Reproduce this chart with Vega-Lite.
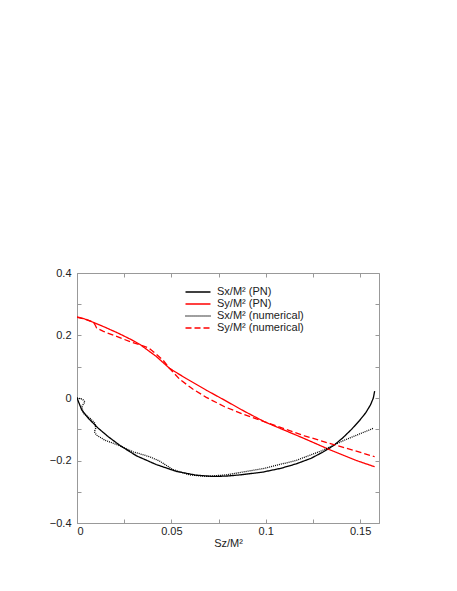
{
  "$schema": "https://vega.github.io/schema/vega-lite/v6.json",
  "autosize": "none",
  "padding": {"left": 77, "top": 273, "right": 78, "bottom": 68},
  "width": 302,
  "height": 250,
  "background": "white",
  "config": {
    "font": "Liberation Sans",
    "view": {"stroke": "#999", "strokeWidth": 1},
    "axis": {
      "grid": false,
      "domainColor": "#999",
      "tickColor": "#999",
      "labelColor": "#222",
      "titleColor": "#222",
      "labelFont": "Liberation Sans",
      "titleFont": "Liberation Sans",
      "labelFontSize": 11,
      "titleFontSize": 11,
      "titleFontWeight": "normal"
    }
  },
  "data": {
    "values": [
      {"series": "Sx/M² (PN)", "i": 0, "x": 0, "y": 0},
      {"series": "Sx/M² (PN)", "i": 1, "x": 0.0004, "y": -0.006},
      {"series": "Sx/M² (PN)", "i": 2, "x": 0.0025, "y": -0.038},
      {"series": "Sx/M² (PN)", "i": 3, "x": 0.006, "y": -0.065},
      {"series": "Sx/M² (PN)", "i": 4, "x": 0.0113, "y": -0.097},
      {"series": "Sx/M² (PN)", "i": 5, "x": 0.0166, "y": -0.124},
      {"series": "Sx/M² (PN)", "i": 6, "x": 0.0228, "y": -0.152},
      {"series": "Sx/M² (PN)", "i": 7, "x": 0.0315, "y": -0.185},
      {"series": "Sx/M² (PN)", "i": 8, "x": 0.042, "y": -0.213},
      {"series": "Sx/M² (PN)", "i": 9, "x": 0.0527, "y": -0.235},
      {"series": "Sx/M² (PN)", "i": 10, "x": 0.0632, "y": -0.247},
      {"series": "Sx/M² (PN)", "i": 11, "x": 0.072, "y": -0.251},
      {"series": "Sx/M² (PN)", "i": 12, "x": 0.079, "y": -0.25},
      {"series": "Sx/M² (PN)", "i": 13, "x": 0.0865, "y": -0.246},
      {"series": "Sx/M² (PN)", "i": 14, "x": 0.0985, "y": -0.237},
      {"series": "Sx/M² (PN)", "i": 15, "x": 0.108, "y": -0.225},
      {"series": "Sx/M² (PN)", "i": 16, "x": 0.116, "y": -0.211},
      {"series": "Sx/M² (PN)", "i": 17, "x": 0.124, "y": -0.193},
      {"series": "Sx/M² (PN)", "i": 18, "x": 0.13, "y": -0.174},
      {"series": "Sx/M² (PN)", "i": 19, "x": 0.136, "y": -0.152},
      {"series": "Sx/M² (PN)", "i": 20, "x": 0.1409, "y": -0.127},
      {"series": "Sx/M² (PN)", "i": 21, "x": 0.1455, "y": -0.1},
      {"series": "Sx/M² (PN)", "i": 22, "x": 0.1497, "y": -0.072},
      {"series": "Sx/M² (PN)", "i": 23, "x": 0.153, "y": -0.047},
      {"series": "Sx/M² (PN)", "i": 24, "x": 0.1555, "y": -0.022},
      {"series": "Sx/M² (PN)", "i": 25, "x": 0.157, "y": 0.0},
      {"series": "Sx/M² (PN)", "i": 26, "x": 0.1577, "y": 0.022},

      {"series": "Sy/M² (PN)", "i": 0, "x": 0, "y": 0.26},
      {"series": "Sy/M² (PN)", "i": 1, "x": 0.004, "y": 0.253},
      {"series": "Sy/M² (PN)", "i": 2, "x": 0.0087, "y": 0.242},
      {"series": "Sy/M² (PN)", "i": 3, "x": 0.015, "y": 0.226},
      {"series": "Sy/M² (PN)", "i": 4, "x": 0.022, "y": 0.207},
      {"series": "Sy/M² (PN)", "i": 5, "x": 0.029, "y": 0.186},
      {"series": "Sy/M² (PN)", "i": 6, "x": 0.0332, "y": 0.172},
      {"series": "Sy/M² (PN)", "i": 7, "x": 0.042, "y": 0.133},
      {"series": "Sy/M² (PN)", "i": 8, "x": 0.049, "y": 0.095},
      {"series": "Sy/M² (PN)", "i": 9, "x": 0.0579, "y": 0.062},
      {"series": "Sy/M² (PN)", "i": 10, "x": 0.0685, "y": 0.025},
      {"series": "Sy/M² (PN)", "i": 11, "x": 0.0782, "y": -0.007},
      {"series": "Sy/M² (PN)", "i": 12, "x": 0.0885, "y": -0.042},
      {"series": "Sy/M² (PN)", "i": 13, "x": 0.0993, "y": -0.076},
      {"series": "Sy/M² (PN)", "i": 14, "x": 0.1205, "y": -0.13},
      {"series": "Sy/M² (PN)", "i": 15, "x": 0.1337, "y": -0.165},
      {"series": "Sy/M² (PN)", "i": 16, "x": 0.148, "y": -0.2},
      {"series": "Sy/M² (PN)", "i": 17, "x": 0.1577, "y": -0.22},

      {"series": "Sx/M² (numerical)", "i": 0, "x": 0, "y": 0},
      {"series": "Sx/M² (numerical)", "i": 1, "x": 0.0029, "y": -0.004},
      {"series": "Sx/M² (numerical)", "i": 2, "x": 0.0042, "y": -0.012},
      {"series": "Sx/M² (numerical)", "i": 3, "x": 0.0025, "y": -0.028},
      {"series": "Sx/M² (numerical)", "i": 4, "x": 0.0034, "y": -0.049},
      {"series": "Sx/M² (numerical)", "i": 5, "x": 0.0069, "y": -0.065},
      {"series": "Sx/M² (numerical)", "i": 6, "x": 0.0095, "y": -0.081},
      {"series": "Sx/M² (numerical)", "i": 7, "x": 0.0099, "y": -0.097},
      {"series": "Sx/M² (numerical)", "i": 8, "x": 0.0092, "y": -0.108},
      {"series": "Sx/M² (numerical)", "i": 9, "x": 0.0104, "y": -0.119},
      {"series": "Sx/M² (numerical)", "i": 10, "x": 0.0148, "y": -0.135},
      {"series": "Sx/M² (numerical)", "i": 11, "x": 0.0219, "y": -0.151},
      {"series": "Sx/M² (numerical)", "i": 12, "x": 0.0297, "y": -0.172},
      {"series": "Sx/M² (numerical)", "i": 13, "x": 0.0385, "y": -0.188},
      {"series": "Sx/M² (numerical)", "i": 14, "x": 0.0438, "y": -0.202},
      {"series": "Sx/M² (numerical)", "i": 15, "x": 0.0508, "y": -0.229},
      {"series": "Sx/M² (numerical)", "i": 16, "x": 0.0597, "y": -0.246},
      {"series": "Sx/M² (numerical)", "i": 17, "x": 0.0685, "y": -0.251},
      {"series": "Sx/M² (numerical)", "i": 18, "x": 0.079, "y": -0.246},
      {"series": "Sx/M² (numerical)", "i": 19, "x": 0.0985, "y": -0.226},
      {"series": "Sx/M² (numerical)", "i": 20, "x": 0.116, "y": -0.2},
      {"series": "Sx/M² (numerical)", "i": 21, "x": 0.13, "y": -0.168},
      {"series": "Sx/M² (numerical)", "i": 22, "x": 0.1409, "y": -0.137},
      {"series": "Sx/M² (numerical)", "i": 23, "x": 0.1497, "y": -0.115},
      {"series": "Sx/M² (numerical)", "i": 24, "x": 0.157, "y": -0.097},

      {"series": "Sy/M² (numerical)", "i": 0, "x": 0, "y": 0.258},
      {"series": "Sy/M² (numerical)", "i": 1, "x": 0.004, "y": 0.253},
      {"series": "Sy/M² (numerical)", "i": 2, "x": 0.0087, "y": 0.243},
      {"series": "Sy/M² (numerical)", "i": 3, "x": 0.0095, "y": 0.235},
      {"series": "Sy/M² (numerical)", "i": 4, "x": 0.0104, "y": 0.224},
      {"series": "Sy/M² (numerical)", "i": 5, "x": 0.014, "y": 0.213},
      {"series": "Sy/M² (numerical)", "i": 6, "x": 0.021, "y": 0.197},
      {"series": "Sy/M² (numerical)", "i": 7, "x": 0.029, "y": 0.178},
      {"series": "Sy/M² (numerical)", "i": 8, "x": 0.0332, "y": 0.171},
      {"series": "Sy/M² (numerical)", "i": 9, "x": 0.038, "y": 0.16},
      {"series": "Sy/M² (numerical)", "i": 10, "x": 0.042, "y": 0.14},
      {"series": "Sy/M² (numerical)", "i": 11, "x": 0.0456, "y": 0.121},
      {"series": "Sy/M² (numerical)", "i": 12, "x": 0.049, "y": 0.095},
      {"series": "Sy/M² (numerical)", "i": 13, "x": 0.0544, "y": 0.06},
      {"series": "Sy/M² (numerical)", "i": 14, "x": 0.0615, "y": 0.028},
      {"series": "Sy/M² (numerical)", "i": 15, "x": 0.0685, "y": 0.002},
      {"series": "Sy/M² (numerical)", "i": 16, "x": 0.0782, "y": -0.028},
      {"series": "Sy/M² (numerical)", "i": 17, "x": 0.0885, "y": -0.053},
      {"series": "Sy/M² (numerical)", "i": 18, "x": 0.0993, "y": -0.076},
      {"series": "Sy/M² (numerical)", "i": 19, "x": 0.1205, "y": -0.121},
      {"series": "Sy/M² (numerical)", "i": 20, "x": 0.1337, "y": -0.145},
      {"series": "Sy/M² (numerical)", "i": 21, "x": 0.148, "y": -0.17},
      {"series": "Sy/M² (numerical)", "i": 22, "x": 0.1577, "y": -0.188}
    ]
  },
  "layer": [
    {
      "mark": {"type": "line", "interpolate": "linear", "clip": true},
      "encoding": {
        "x": {
          "field": "x", "type": "quantitative",
          "scale": {"domain": [0, 0.16], "nice": false, "zero": false},
          "axis": {
            "orient": "bottom",
            "title": "Sz/M²",
            "values": [0, 0.025, 0.05, 0.075, 0.1, 0.125, 0.15],
            "labelExpr": "round(datum.value*40)%2==0 ? format(datum.value,'~g') : ''",
            "tickSize": -4,
            "labelPadding": 6,
            "titlePadding": 1
          }
        },
        "y": {
          "field": "y", "type": "quantitative",
          "scale": {"domain": [-0.4, 0.4], "nice": false, "zero": false},
          "axis": {
            "orient": "left",
            "title": null,
            "values": [-0.4, -0.3, -0.2, -0.1, 0, 0.1, 0.2, 0.3, 0.4],
            "labelExpr": "round(datum.value*10)%2==0 ? format(datum.value,'~g') : ''",
            "tickSize": -4,
            "labelPadding": 10
          }
        },
        "order": {"field": "i", "type": "quantitative"},
        "color": {
          "field": "series", "type": "nominal",
          "scale": {
            "domain": ["Sx/M² (PN)", "Sy/M² (PN)", "Sx/M² (numerical)", "Sy/M² (numerical)"],
            "range": ["#000000", "#ff0000", "#000000", "#ff0000"]
          },
          "legend": {
            "title": null,
            "orient": "none",
            "legendX": 114,
            "legendY": 12,
            "padding": 0,
            "symbolType": "M-2,0H2",
            "symbolSize": 156,
            "symbolStrokeWidth": 1.4,
            "symbolFillColor": "transparent",
            "rowPadding": 0,
            "labelFontSize": 11,
            "labelFont": "Liberation Sans",
            "labelColor": "#222",
            "labelOffset": 12
          }
        },
        "strokeDash": {
          "field": "series", "type": "nominal",
          "scale": {
            "domain": ["Sx/M² (PN)", "Sy/M² (PN)", "Sx/M² (numerical)", "Sy/M² (numerical)"],
            "range": [[1, 0], [1, 0], [1, 1], [6, 3]]
          },
          "legend": {
            "title": null,
            "orient": "none",
            "legendX": 114,
            "legendY": 12,
            "padding": 0,
            "symbolType": "M-2,0H2",
            "symbolSize": 156,
            "symbolStrokeWidth": 1.4,
            "symbolFillColor": "transparent",
            "rowPadding": 0,
            "labelFontSize": 11,
            "labelFont": "Liberation Sans",
            "labelColor": "#222",
            "labelOffset": 12
          }
        },
        "strokeWidth": {"value": 1.3}
      }
    },
    {
      "mark": {"type": "line", "opacity": 0},
      "encoding": {
        "x": {
          "field": "x", "type": "quantitative",
          "axis": {
            "orient": "top", "title": null, "labels": false, "domain": false,
            "values": [0, 0.025, 0.05, 0.075, 0.1, 0.125, 0.15],
            "tickSize": -4
          }
        },
        "y": {
          "field": "y", "type": "quantitative",
          "axis": {
            "orient": "right", "title": null, "labels": false, "domain": false,
            "values": [-0.4, -0.3, -0.2, -0.1, 0, 0.1, 0.2, 0.3, 0.4],
            "tickSize": -4
          }
        },
        "detail": {"field": "series", "type": "nominal"},
        "order": {"field": "i", "type": "quantitative"}
      }
    }
  ],
  "resolve": {"axis": {"x": "independent", "y": "independent"}}
}
